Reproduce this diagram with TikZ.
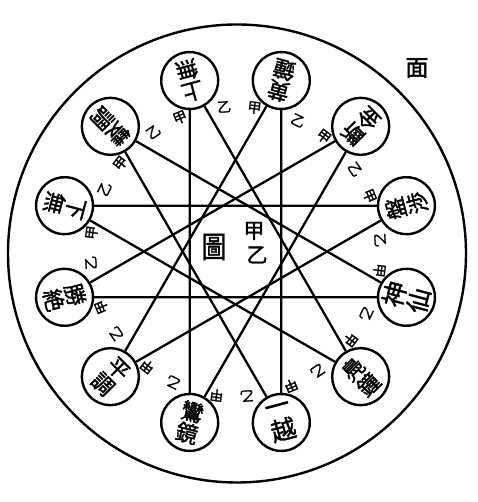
\documentclass[tikz,border=0pt]{standalone}
\usepackage{fontspec}
\newfontfamily\cjk{Noto Sans CJK JP}[FakeBold=1.5]
\begin{document}
\begin{tikzpicture}[x=1pt,y=1pt,
  pitch/.style={circle,draw,line width=2.4pt,minimum size=57pt,inner sep=0pt,align=center,
    font=\cjk\fontsize{22}{22}\selectfont},
  bigpitch/.style={pitch,font=\cjk\fontsize{25}{25}\selectfont},
  chord/.style={line width=2.3pt},
  kolabel/.style={font=\cjk\fontsize{14}{14}\selectfont,inner sep=0pt},
  centertext/.style={font=\cjk\fontsize{21}{21}\selectfont,inner sep=0pt}]
\useasboundingbox (0,0) rectangle (477,502);
\draw[line width=2.4pt] (237,248.5) circle (229);
\begin{scope}[shift={(235.5,250.5)}]
  \node[pitch,rotate=195] (c0) at (105:177) {上\\無};
  \node[pitch,rotate=165] (c1) at (75:177) {黄\\鐘};
  \node[pitch,rotate=135] (c2) at (45:177) {斷\\金};
  \node[pitch,rotate=105] (c3) at (15:177) {盤\\渉};
  \node[bigpitch,rotate=75] (c4) at (-15:177) {神\\仙};
  \node[pitch,rotate=45] (c5) at (-45:177) {鳧\\鐘};
  \node[bigpitch,rotate=15] (c6) at (-75:177) {一\\越};
  \node[pitch,rotate=-15] (c7) at (-105:177) {鸞\\鏡};
  \node[pitch,rotate=-45] (c8) at (-135:177) {平\\調};
  \node[pitch,rotate=-75] (c9) at (-165:177) {勝\\絶};
  \node[pitch,rotate=-105] (c10) at (165:177) {下\\無};
  \node[pitch,rotate=-135] (c11) at (135:177) {雙\\調};
  \foreach \i in {0,...,11} {
    \pgfmathtruncatemacro\j{mod(\i+5,12)}
    \draw[chord] (c\i) -- (c\j);
    \pgfmathsetmacro\ay{105-30*\i-10.5}
    \pgfmathsetmacro\aj{105-30*\i+7.5}
    \node[kolabel,rotate=\ay-90] (y\i) at (\ay:145) {乙};
    \node[kolabel,rotate=\aj-90] (k\i) at (\aj:145) {甲};
  }
\end{scope}
\node[centertext,font=\cjk\fontsize{25}{25}\selectfont,yscale=1.2] (tu) at (214,255) {圖};
\node[centertext] (jia) at (254,271) {甲};
\node[centertext] (yi) at (257,247) {乙};
\node[centertext,font=\cjk\fontsize{23}{23}\selectfont] (mian) at (417,434) {面};
\end{tikzpicture}
\end{document}
